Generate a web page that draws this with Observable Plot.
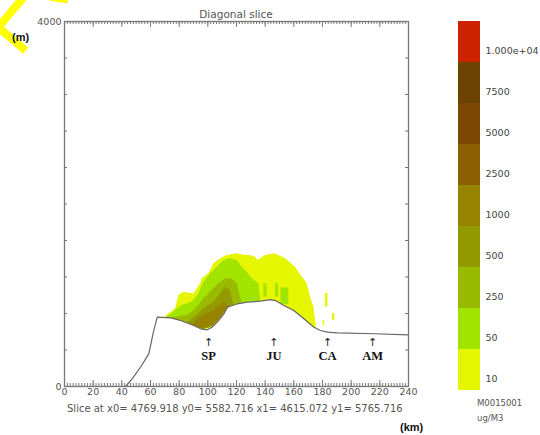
<!DOCTYPE html>
<html><head><meta charset="utf-8">
<script src="https://cdn.jsdelivr.net/npm/d3@7"></script>
<script src="https://cdn.jsdelivr.net/npm/@observablehq/plot@0.6"></script>
<style>
body{margin:0;background:#fff;}
#wrap{position:relative;width:540px;height:435px;overflow:hidden;font-family:"DejaVu Sans",sans-serif;color:#555;}
#wrap svg{position:absolute;overflow:visible;}
.t{position:absolute;white-space:nowrap;line-height:1;}
.wm{position:absolute;background:#ffff00;}
</style></head><body><div id="wrap">
<div class="wm" style="left:-6px;top:7px;width:36px;height:8px;transform:rotate(-50deg);"></div>
<div class="wm" style="left:-6px;top:35px;width:36px;height:8px;transform:rotate(40deg);"></div>
<div class="wm" style="left:50px;top:-2px;width:18px;height:4px;transform:rotate(8deg);"></div>
</div>
<script>
// ---------- data ----------
const terrainKm = [42.6, 47.2, 53, 58.8, 62.3, 64.7, 74, 81, 90.2, 94.9, 99.6, 103, 106.6, 111.2, 113.5, 120.5, 127.5, 136.8, 143.8, 147.2, 153, 160, 167, 174, 178.6, 183.3, 190.3, 215.8, 240];
const terrainM  = [0, 84, 211, 358, 614, 760, 752, 723, 668, 632, 621, 650, 705, 796, 869, 906, 924, 935, 953, 942, 888, 833, 742, 650, 614, 595, 588, 578, 566];

const levels = ["10", "50", "250", "500", "1000", "2500", "5000", "7500", "1.000e+04"];
const levelColors = ["#e6f500", "#a0e400", "#9aba00", "#929a00", "#968300", "#8c6000", "#7b4800", "#6c4300", "#cc2200"];

// top of each concentration band (km, m); the bottom is the terrain
const c10Km  = [70.5, 77.5, 79.8, 83.3, 90.2, 94.9, 96.1, 100.7, 104.2, 108.9, 113.5, 120.5, 126.3, 129.8, 133.3, 135, 140.3, 147.2, 154.2, 161.2, 165.9, 169.4, 171.7, 174, 175.2, 175.8];
const c10Top = [767, 851, 997, 1033, 1015, 1125, 1180, 1235, 1345, 1400, 1436, 1454, 1436, 1436, 1417, 1380, 1436, 1454, 1400, 1307, 1198, 1125, 979, 869, 723, 645];
const c50Km  = [71.6, 76.3, 78.6, 82.1, 89.1, 93.7, 97.2, 101.9, 106.5, 111.2, 115.8, 120.5, 124, 127.5, 131, 135.6, 136.8, 137.6];
const c50Top = [765, 815, 851, 888, 924, 1015, 1143, 1235, 1307, 1381, 1400, 1381, 1307, 1253, 1180, 1125, 960, 937];
const c250Km  = [74, 85.6, 89.1, 92.6, 97.2, 103, 107.7, 112.3, 117, 120.5, 122.3, 123.8];
const c250Top = [752, 778, 815, 869, 961, 1052, 1125, 1180, 1180, 1125, 1015, 914];
const c500Km  = [85.6, 92.6, 97.2, 104.2, 108.9, 112.3, 115.8, 117, 118.3];
const c500Top = [695, 778, 851, 924, 1015, 1088, 1052, 961, 894];
const c1000Km  = [89, 93, 97.2, 104.2, 108.9, 111.2, 113.5, 114.5];
const c1000Top = [675, 735, 778, 833, 888, 924, 900, 874];

// small isolated patches
const streakX1 = [182, 187, 180.5], streakX2 = [183.8, 188.6, 181.5];
const streakY1 = [870, 723, 670],   streakY2 = [1020, 800, 723];
const patchX1 = [139, 147.2, 151], patchX2 = [141.3, 149.3, 156.5];
const patchY1 = [979, 979, 900],   patchY2 = [1125, 1125, 1080];

const sites = ["SP", "JU", "CA", "AM"];
const siteKm = [100.5, 146, 183.5, 215];

const xTickLabels = [0, 20, 40, 60, 80, 100, 120, 140, 160, 180, 200, 220, 240];
const yTickLabels = [0, 4000];
const xMinorStep = 2, yMinorStep = 400;

// ---------- helpers ----------
function terrainAt(x) {
  const i = d3.bisectRight(terrainKm, x);
  if (i <= 0) return terrainM[0];
  if (i >= terrainKm.length) return terrainM[terrainM.length - 1];
  const x0 = terrainKm[i-1], x1 = terrainKm[i];
  return terrainM[i-1] + (terrainM[i] - terrainM[i-1]) * (x - x0) / (x1 - x0);
}
function band(km, top) { return km.map((x, i) => ({x, y1: terrainAt(x), y2: top[i]})); }
const bands = [
  [band(c10Km, c10Top), levelColors[0]],
  [band(c50Km, c50Top), levelColors[1]],
  [band(c250Km, c250Top), levelColors[2]],
  [band(c500Km, c500Top), levelColors[3]],
  [band(c1000Km, c1000Top), levelColors[4]]
];

const W = 540, H = 435, mL = 64, mR = 132, mT = 21, mB = 49;
const fw = W - mL - mR, fh = H - mT - mB;
const xMinor = d3.range(0, 240 + 1e-9, xMinorStep);
const yMinor = d3.range(0, 4000 + 1e-9, yMinorStep);
const axisColor = "#777";

const chart = Plot.plot({
  width: W, height: H, marginLeft: mL, marginRight: mR, marginTop: mT, marginBottom: mB,
  x: {domain: [0, 240]},
  y: {domain: [0, 4000]},
  style: {fontFamily: "DejaVu Sans, sans-serif", fontSize: "9.5px", color: "#555", background: "transparent"},
  marks: [
    ...bands.map(([d, c]) => Plot.area(d, {x1: "x", y1: "y1", y2: "y2", fill: c})),
    Plot.rect(streakX1, {x1: streakX1, x2: streakX2, y1: streakY1, y2: streakY2, fill: levelColors[0]}),
    Plot.rect(patchX1, {x1: patchX1, x2: patchX2, y1: patchY1, y2: patchY2, fill: levelColors[1]}),
    Plot.line(terrainKm, {x: terrainKm, y: terrainM, stroke: "#666", strokeWidth: 1.2}),
    // inward ticks
    Plot.ruleX(xMinor, {x: d => d, insetTop: fh - 3, stroke: axisColor}),
    Plot.ruleX(xTickLabels, {x: d => d, insetTop: fh - 6, stroke: axisColor}),
    Plot.ruleX(xMinor, {x: d => d, insetBottom: fh - 3, stroke: axisColor}),
    Plot.ruleX(xTickLabels, {x: d => d, insetBottom: fh - 6, stroke: axisColor}),
    Plot.ruleY(yMinor, {y: d => d, insetRight: fw - 3, stroke: axisColor}),
    Plot.ruleY(yMinor, {y: d => d, insetLeft: fw - 3, stroke: axisColor}),
    Plot.frame({stroke: axisColor, strokeWidth: 1.3}),
    Plot.axisX({ticks: xTickLabels, tickSize: 0, tickPadding: 2, label: null, fill: "#555", tickFormat: d => String(d)}),
    Plot.axisY({ticks: yTickLabels, tickSize: 0, tickPadding: 3, label: null, fill: "#555", tickFormat: d => String(d)}),
    Plot.text(sites, {x: siteKm, y: 485, text: () => "\u2191", fontFamily: "DejaVu Sans", fontSize: 11, fill: "#222"}),
    Plot.text(sites, {x: siteKm, y: 335, text: d => d, fontFamily: "Liberation Serif", fontWeight: "bold", fontSize: 12.5, fill: "#111"})
  ]
});
chart.style.left = "0px"; chart.style.top = "0px";
const wrap = document.getElementById("wrap");
wrap.appendChild(chart);

// colour bar
const revLevels = levels.slice().reverse();
const legend = Plot.plot({
  width: 100, height: H, marginLeft: 18, marginRight: 60, marginTop: 19, marginBottom: 44,
  x: {domain: ["c"], axis: null, padding: 0},
  y: {domain: revLevels, axis: null, padding: 0},
  color: {type: "identity"},
  style: {fontFamily: "DejaVu Sans, sans-serif", fontSize: "9.5px", background: "transparent"},
  marks: [
    Plot.cell(levels, {x: () => "c", y: d => d, fill: (d, i) => levelColors[i]}),
    Plot.text(levels, {x: () => "c", y: d => d, text: d => d, dx: 16, dy: 9, textAnchor: "start", fill: "#444"})
  ]
});
legend.style.left = "440px"; legend.style.top = "0px";
wrap.appendChild(legend);

function addText(txt, x, y, css) {
  const d = document.createElement("div");
  d.className = "t"; d.textContent = txt;
  d.style.left = x + "px"; d.style.top = y + "px";
  Object.assign(d.style, css || {});
  wrap.appendChild(d);
}
addText("Diagonal slice", 236, 14, {transform: "translate(-50%,-50%)", fontSize: "10.5px", color: "#555"});
addText("Slice at x0= 4769.918 y0= 5582.716 x1= 4615.072 y1= 5765.716", 67, 409, {transform: "translateY(-50%)", fontSize: "10px", color: "#555"});
addText("(km)", 400, 427, {transform: "translateY(-50%)", fontFamily: "Liberation Sans, Arial, sans-serif", fontWeight: "bold", fontSize: "11px", color: "#111"});
addText("(m)", 12, 37, {transform: "translateY(-50%)", fontFamily: "Liberation Sans, Arial, sans-serif", fontWeight: "bold", fontSize: "11px", color: "#111"});
addText("M0015001", 477, 403, {transform: "translateY(-50%)", fontSize: "8.5px", color: "#555"});
addText("ug/M3", 477, 418, {transform: "translateY(-50%)", fontSize: "8.5px", color: "#555"});
</script>
</body></html>
